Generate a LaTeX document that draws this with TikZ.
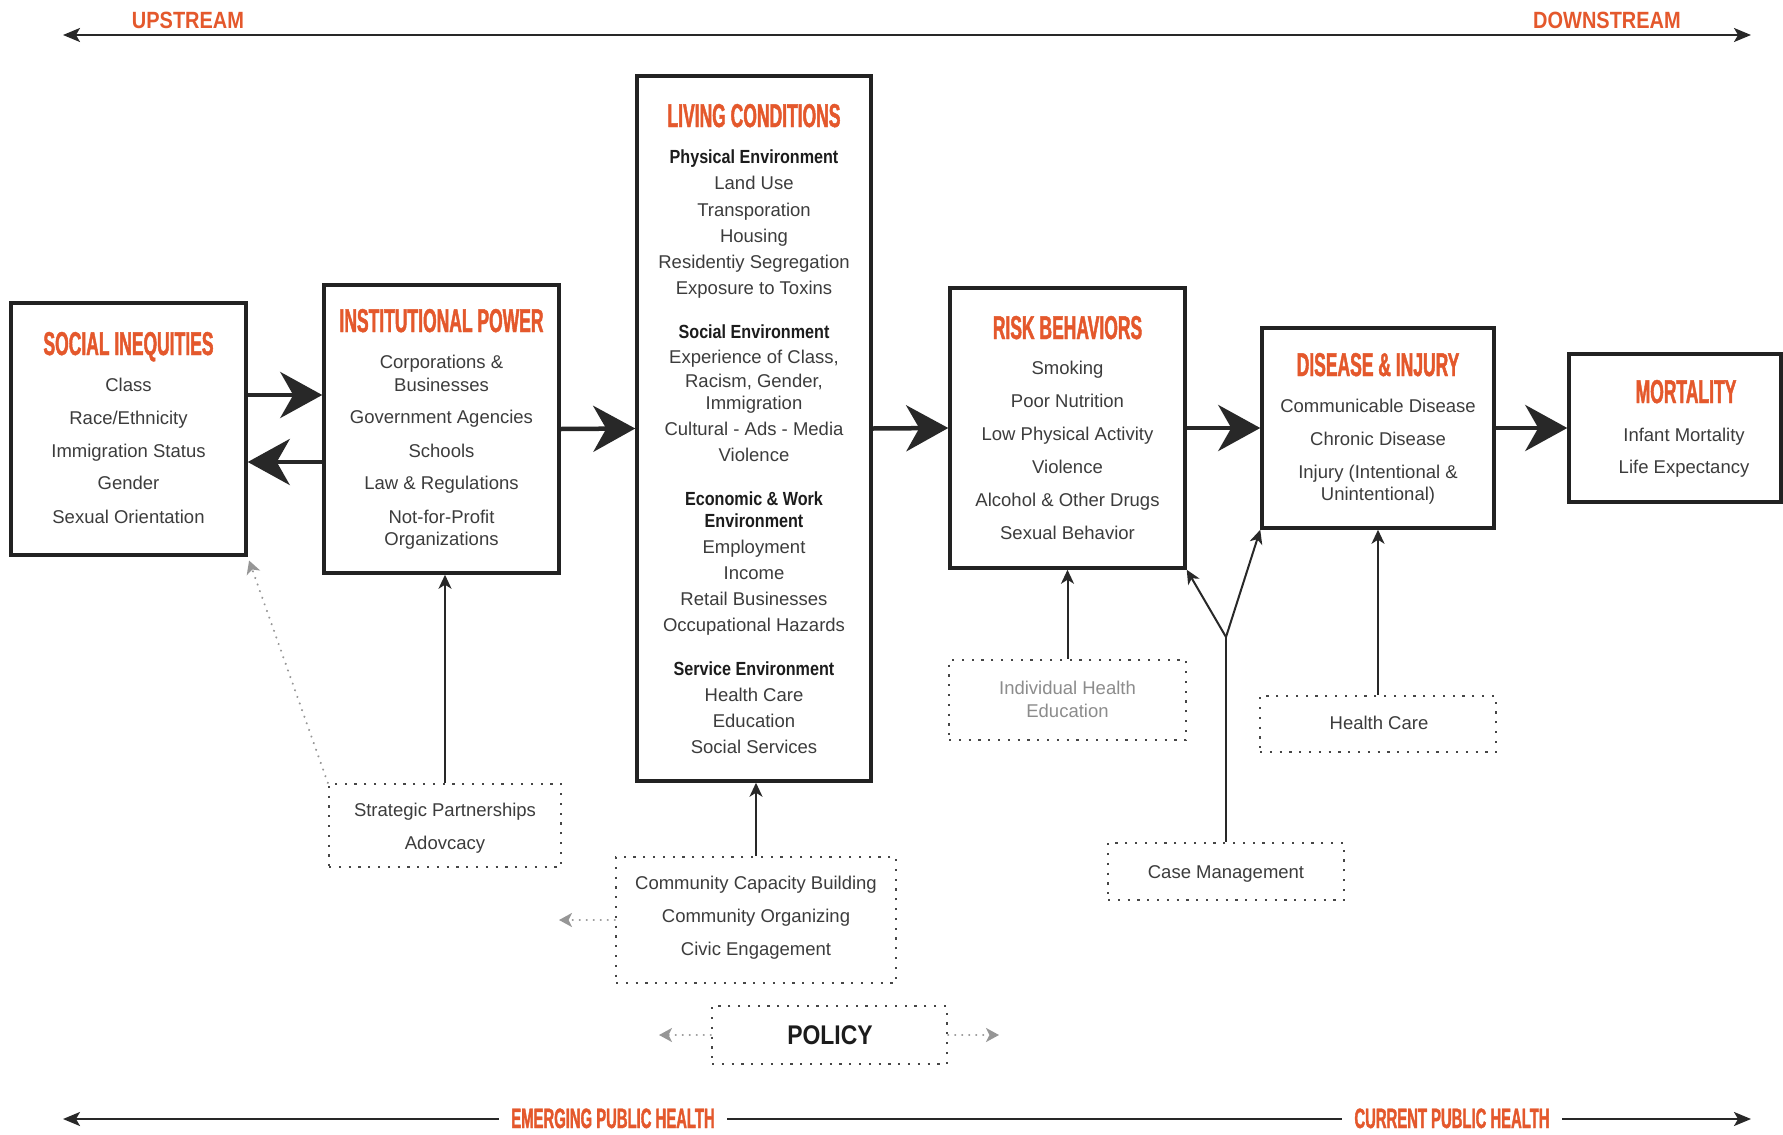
\documentclass[tikz,border=0pt]{standalone}
\usepackage{fontspec}
\setmainfont{Liberation Sans}
\newfontfamily\ttlfont{Liberation Sans}[FakeStretch=0.53,FakeBold=1.3]
\newfontfamily\hdfont{Liberation Sans}[FakeStretch=0.85]
\usetikzlibrary{arrows.meta,calc}
\definecolor{orng}{RGB}{228,88,44}
\definecolor{txtc}{RGB}{60,60,60}
\definecolor{hdc}{RGB}{28,28,28}
\definecolor{boxc}{RGB}{34,34,34}
\definecolor{dotc}{RGB}{70,70,70}
\definecolor{arrc}{RGB}{40,40,40}
\definecolor{lgray}{RGB}{140,140,140}
\definecolor{dgray}{RGB}{150,150,150}
\tikzset{
  box/.style={draw=boxc, line width=3.5pt, inner sep=0pt, rectangle},
  dbox/.style={draw=dotc, line width=2.4pt, dash pattern=on 2.2pt off 7.6pt, inner sep=0pt, rectangle},
  ttl/.style={text=orng, font=\ttlfont\bfseries\fontsize{33}{36}\selectfont, text height=24pt, text depth=0pt, inner sep=0pt},
  btl/.style={text=orng, font=\ttlfont\bfseries\fontsize{28}{32}\selectfont, text height=20pt, text depth=0pt, inner xsep=12pt, inner ysep=0pt, fill=white},
  ttop/.style={text=orng, font=\hdfont\bfseries\fontsize{23.5}{26}\selectfont, text height=17pt, text depth=0pt, inner sep=0pt},
  itm/.style={text=txtc, font=\fontsize{18.5}{22}\selectfont, text height=13.2pt, text depth=0pt, inner sep=0pt},
  litm/.style={itm, text=lgray},
  hd/.style={text=hdc, font=\hdfont\bfseries\fontsize{19}{22}\selectfont, text height=13.6pt, text depth=0pt, inner sep=0pt},
  pol/.style={text=hdc, font=\hdfont\bfseries\fontsize{27}{30}\selectfont, text height=19.4pt, text depth=0pt, inner sep=0pt},
  bigarrow/.style={line width=4.5pt, draw=arrc, -{Stealth[length=42pt,width=46pt,inset=13pt]}},
  thin/.style={line width=2pt, draw=arrc, -{Stealth[length=14pt,width=13pt,inset=4pt]}},
  darr/.style={line width=2.3pt, draw=dgray, line cap=round, dash pattern=on 0.01pt off 7pt, -{Stealth[length=13pt,width=14pt,inset=3.5pt]}},
  axis/.style={line width=2pt, draw=arrc, {Stealth[length=17pt,width=14pt,inset=4pt]}-{Stealth[length=17pt,width=14pt,inset=4pt]}}
}
\begin{document}
\begin{tikzpicture}[x=1pt,y=-1pt]
\useasboundingbox[fill=white] (0,0) rectangle (1783,1135);

% axes
\coordinate (tl) at (63,35);
\coordinate (tr) at (1751,35);
\draw[axis] (tl) -- (tr);
\node[ttop] (up) at (188,20) {UPSTREAM};
\node[ttop] (down) at (1607,20) {DOWNSTREAM};

\coordinate (bl) at (63,1119);
\coordinate (br) at (1751,1119);
\draw[axis] (bl) -- (br);
\node[btl] (emph) at (613,1118) {EMERGING PUBLIC HEALTH};
\node[btl] (cph) at (1452,1118) {CURRENT PUBLIC HEALTH};

% main boxes
\node[box, minimum width=235pt, minimum height=252pt] (si) at (128.5,429) {};
\node[box, minimum width=235pt, minimum height=288pt] (ip) at (441.5,429) {};
\node[box, minimum width=234pt, minimum height=705pt] (lc) at (754,428.5) {};
\node[box, minimum width=235pt, minimum height=280pt] (rb) at (1067.5,428) {};
\node[box, minimum width=232pt, minimum height=200pt] (di) at (1378,428) {};
\node[box, minimum width=212pt, minimum height=148pt] (mo) at (1675,428) {};

% dotted boxes
\node[dbox, minimum width=232pt, minimum height=83pt] (sp) at (445,825.5) {};
\node[dbox, minimum width=280pt, minimum height=126pt] (ccb) at (756,920) {};
\node[dbox, minimum width=235pt, minimum height=58pt] (po) at (829.5,1035) {};
\node[dbox, minimum width=237pt, minimum height=80pt] (ihe) at (1067.5,700) {};
\node[dbox, minimum width=236pt, minimum height=56pt] (hc) at (1378,724) {};
\node[dbox, minimum width=236pt, minimum height=57pt] (cm) at (1226,871.5) {};

% Social inequities
\node[ttl] (sit) at (128.5,343) {SOCIAL INEQUITIES};
\node[itm] (si1) at (128.5,385) {Class};
\node[itm] (si2) at (128.5,418) {Race/Ethnicity};
\node[itm] (si3) at (128.5,451) {Immigration Status};
\node[itm] (si4) at (128.5,483) {Gender};
\node[itm] (si5) at (128.5,517) {Sexual Orientation};

% Institutional power
\node[ttl] (ipt) at (441.5,320) {INSTITUTIONAL POWER};
\node[itm] (ip1) at (441.5,362) {Corporations \&};
\node[itm] (ip2) at (441.5,385) {Businesses};
\node[itm] (ip3) at (441.5,417) {Government Agencies};
\node[itm] (ip4) at (441.5,451) {Schools};
\node[itm] (ip5) at (441.5,483) {Law \& Regulations};
\node[itm] (ip6) at (441.5,517) {Not-for-Profit};
\node[itm] (ip7) at (441.5,539) {Organizations};

% Living conditions
\node[ttl] (lct) at (754,115) {LIVING CONDITIONS};
\node[hd]  (lh1) at (754,157) {Physical Environment};
\node[itm] (lc1) at (754,183) {Land Use};
\node[itm] (lc2) at (754,210) {Transporation};
\node[itm] (lc3) at (754,236) {Housing};
\node[itm] (lc4) at (754,262) {Residentiy Segregation};
\node[itm] (lc5) at (754,288) {Exposure to Toxins};
\node[hd]  (lh2) at (754,332) {Social Environment};
\node[itm] (lc6) at (754,357) {Experience of Class,};
\node[itm] (lc7) at (754,381) {Racism, Gender,};
\node[itm] (lc8) at (754,403) {Immigration};
\node[itm] (lc9) at (754,429) {Cultural - Ads - Media};
\node[itm] (lc10) at (754,455) {Violence};
\node[hd]  (lh3) at (754,499) {Economic \& Work};
\node[hd]  (lh4) at (754,521) {Environment};
\node[itm] (lc11) at (754,547) {Employment};
\node[itm] (lc12) at (754,573) {Income};
\node[itm] (lc13) at (754,599) {Retail Businesses};
\node[itm] (lc14) at (754,625) {Occupational Hazards};
\node[hd]  (lh5) at (754,669) {Service Environment};
\node[itm] (lc15) at (754,695) {Health Care};
\node[itm] (lc16) at (754,721) {Education};
\node[itm] (lc17) at (754,747) {Social Services};

% Risk behaviors
\node[ttl] (rbt) at (1067.5,327) {RISK BEHAVIORS};
\node[itm] (rb1) at (1067.5,368) {Smoking};
\node[itm] (rb2) at (1067.5,401) {Poor Nutrition};
\node[itm] (rb3) at (1067.5,434) {Low Physical Activity};
\node[itm] (rb4) at (1067.5,467) {Violence};
\node[itm] (rb5) at (1067.5,500) {Alcohol \& Other Drugs};
\node[itm] (rb6) at (1067.5,533) {Sexual Behavior};

% Disease & injury
\node[ttl] (dit) at (1378,364) {DISEASE \& INJURY};
\node[itm] (di1) at (1378,406) {Communicable Disease};
\node[itm] (di2) at (1378,439) {Chronic Disease};
\node[itm] (di3) at (1378,472) {Injury (Intentional \&};
\node[itm] (di4) at (1378,494) {Unintentional)};

% Mortality
\node[ttl] (mot) at (1686,391) {MORTALITY};
\node[itm] (mo1) at (1684,435) {Infant Mortality};
\node[itm] (mo2) at (1684,467) {Life Expectancy};

% dotted box texts
\node[itm] (sp1) at (445,810) {Strategic Partnerships};
\node[itm] (sp2) at (445,843) {Adovcacy};
\node[itm] (cc1) at (756,883) {Community Capacity Building};
\node[itm] (cc2) at (756,916) {Community Organizing};
\node[itm] (cc3) at (756,949) {Civic Engagement};
\node[pol] (pot) at (830,1035) {POLICY};
\node[litm] (ih1) at (1067.5,688) {Individual Health};
\node[litm] (ih2) at (1067.5,711) {Education};
\node[itm] (hc1) at (1379,723) {Health Care};
\node[itm] (cm1) at (1226,872) {Case Management};

% big arrows
\draw[bigarrow] ([yshift=34pt]si.east) -- ([yshift=34pt]ip.west);
\draw[bigarrow] ([yshift=-33pt]ip.west) -- ([yshift=-33pt]si.east);
\draw[bigarrow] (ip.east) -- (lc.west);
\draw[bigarrow] (lc.east) -- (rb.west);
\draw[bigarrow] (rb.east) -- (di.west);
\draw[bigarrow] (di.east) -- (mo.west);

% thin arrows
\draw[thin] (sp.north) -- (sp.north |- ip.south);
\draw[thin] (ccb.north) -- (ccb.north |- lc.south);
\draw[thin] (ihe.north) -- (ihe.north |- rb.south);
\draw[thin] (hc.north) -- (hc.north |- di.south);
\coordinate (fork) at (1226,637);
\draw[line width=2pt, draw=arrc] (cm.north) -- (fork);
\draw[thin] (fork) -- (rb.south east);
\draw[thin] (fork) -- (di.south west);

% dotted gray arrows
\draw[darr, shorten >=4pt] (sp.north west) -- (si.south east);
\coordinate (ccbl) at (559,920);
\draw[darr] (ccb.west) -- (ccbl);
\coordinate (pol) at (659,1035);
\coordinate (por) at (999,1035);
\draw[darr] (po.west) -- (pol);
\draw[darr] (po.east) -- (por);
\end{tikzpicture}
\end{document}
